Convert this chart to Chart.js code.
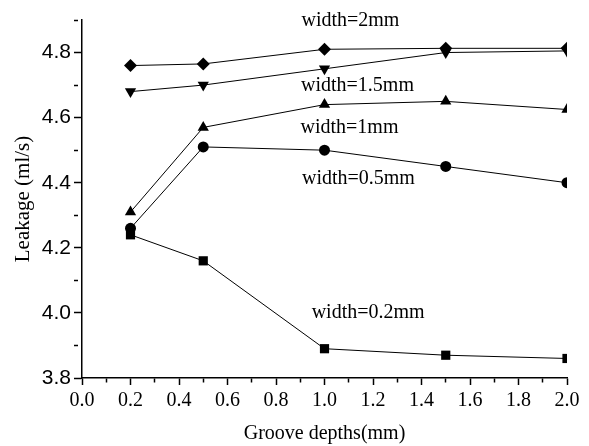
<!DOCTYPE html>
<html>
<head>
<meta charset="utf-8">
<script src="https://cdn.jsdelivr.net/npm/chart.js@4/dist/chart.umd.min.js"></script>
<style>
  html, body { margin: 0; padding: 0; background: #fff; }
  #wrap { width: 589px; height: 446px; }
</style>
</head>
<body>
<div id="wrap"><canvas id="leakChart" width="589" height="446"></canvas></div>
<script>
// groove depth (mm) on x, leakage (ml/s) for each groove width
const depths = [0.2, 0.5, 1.0, 1.5, 2.0];
const w02 = [4.24, 4.16, 3.89, 3.87, 3.86];
const w05 = [4.26, 4.51, 4.50, 4.45, 4.40];
const w1 = [4.31, 4.57, 4.64, 4.65, 4.625];
const w15 = [4.68, 4.70, 4.75, 4.80, 4.805];
const w2 = [4.76, 4.765, 4.81, 4.813, 4.813];

// curve labels, placed in data units
const noteTexts = ['width=2mm', 'width=1.5mm', 'width=1mm', 'width=0.5mm', 'width=0.2mm'];
const noteX = [1.107, 1.136, 1.103, 1.14, 1.18];
const noteY = [4.899, 4.698, 4.568, 4.412, 4.0];

const serif = '"Liberation Serif", "Times New Roman", serif';
const sans = '"Liberation Sans", Arial, sans-serif';

const toPoints = (vals) => depths.map((d, i) => ({ x: d, y: vals[i] }));

const makeSet = (label, vals, style, rot, radius) => ({
  label: label,
  data: toPoints(vals),
  showLine: true,
  borderColor: '#000',
  borderWidth: 1,
  backgroundColor: '#000',
  pointStyle: style,
  rotation: rot,
  pointRadius: radius,
  pointBorderWidth: 0,
  pointBackgroundColor: '#000',
});

// minor ticks are drawn shorter by dashing the tick line
const isMajor = (v) => Math.round(v * 10) % 2 === 0;
const tickDash = (ctx) => (ctx.tick && !isMajor(ctx.tick.value)) ? [4, 20] : [];

const notesPlugin = {
  id: 'notes',
  afterDatasetsDraw(chart) {
    const { ctx, scales } = chart;
    ctx.save();
    ctx.font = '20px ' + serif;
    ctx.fillStyle = '#000';
    ctx.textAlign = 'center';
    ctx.textBaseline = 'middle';
    noteTexts.forEach((t, i) => {
      ctx.fillText(t, scales.x.getPixelForValue(noteX[i]), scales.y.getPixelForValue(noteY[i]));
    });
    ctx.restore();
  },
};

const chart = new Chart(document.getElementById('leakChart').getContext('2d'), {
  type: 'scatter',
  data: {
    datasets: [
      makeSet('width=0.2mm', w02, 'rect', 0, 6.5),
      makeSet('width=0.5mm', w05, 'circle', 0, 5.5),
      makeSet('width=1mm', w1, 'triangle', 0, 6.5),
      makeSet('width=1.5mm', w15, 'triangle', 180, 6.5),
      makeSet('width=2mm', w2, 'rectRot', 0, 6.5),
    ],
  },
  options: {
    responsive: false,
    animation: false,
    layout: { padding: { top: 20, right: 22, left: 0, bottom: 0 } },
    plugins: {
      legend: { display: false },
      tooltip: { enabled: false },
    },
    scales: {
      x: {
        type: 'linear',
        min: 0,
        max: 2.0,
        border: { display: true, color: '#000', width: 1.5 },
        grid: {
          drawOnChartArea: false,
          tickLength: 7,
          tickColor: '#000',
          tickWidth: 1.5,
          tickBorderDash: tickDash,
        },
        ticks: {
          stepSize: 0.1,
          color: '#000',
          padding: 4,
          maxRotation: 0,
          autoSkip: false,
          font: { family: serif, size: 20 },
          callback: (v) => isMajor(v) ? v.toFixed(1) : '',
        },
        title: {
          display: true,
          text: 'Groove depths(mm)',
          color: '#000',
          font: { family: serif, size: 20 },
          padding: { top: 4, bottom: 0 },
        },
        afterFit: (scale) => { scale.height = 68; },
      },
      y: {
        type: 'linear',
        min: 3.8,
        max: 4.9,
        border: { display: true, color: '#000', width: 1.5 },
        grid: {
          drawOnChartArea: false,
          tickLength: 8,
          tickColor: '#000',
          tickWidth: 1.5,
          tickBorderDash: tickDash,
        },
        ticks: {
          stepSize: 0.1,
          color: '#000',
          padding: 3,
          autoSkip: false,
          font: { family: sans, size: 21 },
          callback: (v) => isMajor(v) ? v.toFixed(1) : '',
        },
        title: {
          display: true,
          text: 'Leakage (ml/s)',
          color: '#000',
          font: { family: serif, size: 21 },
          padding: { top: 11, bottom: 0 },
        },
        afterFit: (scale) => { scale.width = 82; },
      },
    },
  },
  plugins: [notesPlugin],
});
</script>
</body>
</html>
